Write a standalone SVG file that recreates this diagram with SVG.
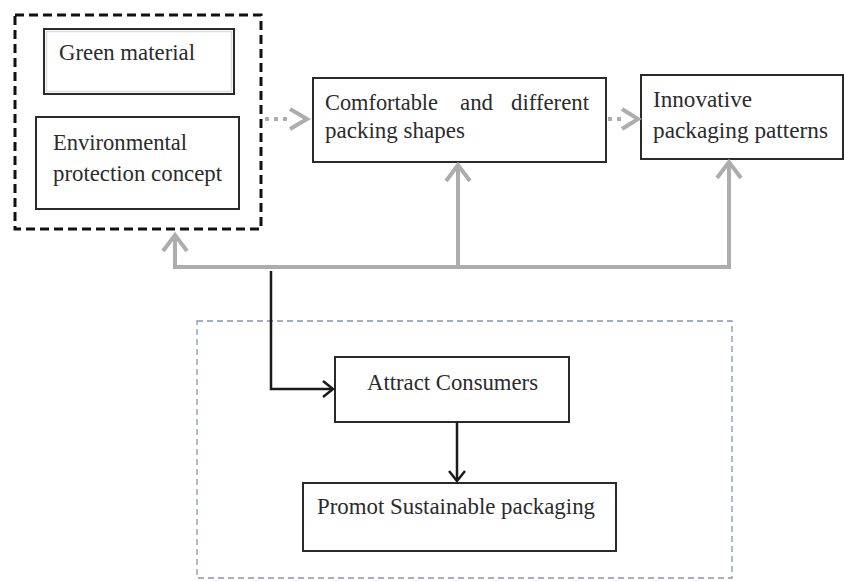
<svg xmlns="http://www.w3.org/2000/svg" width="844" height="581" viewBox="0 0 844 581">
<style>
  .box{fill:#fff;stroke:#2a2a2a;stroke-width:2}
  .t{font-family:"Liberation Serif","Times New Roman",serif;font-size:24px;fill:#2b2b2b}
  .gray{fill:none;stroke:#adadad;stroke-width:4;stroke-linejoin:miter}
  .dot{fill:none;stroke:#adadad;stroke-width:4;stroke-dasharray:4 5}
  .blk{fill:none;stroke:#1a1a1a;stroke-width:2.5}
</style>
<rect width="844" height="581" fill="#fff"/>
<g id="group-materials">
  <rect x="15" y="15" width="246" height="214" fill="none" stroke="#111" stroke-width="3" stroke-dasharray="9 5"/>
</g>
<g id="group-outcome">
  <rect x="197" y="321" width="535" height="257" fill="none" stroke="#7f97b8" stroke-width="1.3" stroke-dasharray="6 4"/>
</g>
<g id="green-material">
  <rect class="box" x="44" y="29" width="190" height="65" stroke="#555"/>
  <rect x="46.5" y="31.5" width="185" height="60" fill="none" stroke="#dcdcdc" stroke-width="1.5"/>
  <text class="t" x="59" y="60" textLength="136" lengthAdjust="spacingAndGlyphs">Green material</text>
</g>
<g id="environmental-protection">
  <rect class="box" x="36" y="117" width="203" height="92"/>
  <text class="t" x="53" y="150" textLength="134" lengthAdjust="spacingAndGlyphs">Environmental</text>
  <text class="t" x="53" y="181" textLength="169" lengthAdjust="spacingAndGlyphs">protection concept</text>
</g>
<g id="packing-shapes">
  <rect class="box" x="313" y="78" width="293" height="84"/>
  <text class="t" x="325" y="110" textLength="113" lengthAdjust="spacingAndGlyphs">Comfortable</text>
  <text class="t" x="460" y="110" textLength="33" lengthAdjust="spacingAndGlyphs">and</text>
  <text class="t" x="511" y="110" textLength="78" lengthAdjust="spacingAndGlyphs">different</text>
  <text class="t" x="325" y="138" textLength="140" lengthAdjust="spacingAndGlyphs">packing shapes</text>
</g>
<g id="packaging-patterns">
  <rect class="box" x="641" y="75" width="202" height="84"/>
  <text class="t" x="653" y="107" textLength="99" lengthAdjust="spacingAndGlyphs">Innovative</text>
  <text class="t" x="653" y="138" textLength="175" lengthAdjust="spacingAndGlyphs">packaging patterns</text>
</g>
<g id="attract-consumers">
  <rect class="box" x="335" y="357" width="234" height="65"/>
  <text class="t" x="367" y="390" textLength="171" lengthAdjust="spacingAndGlyphs">Attract Consumers</text>
</g>
<g id="promot-sustainable">
  <rect class="box" x="303" y="483" width="313" height="68"/>
  <text class="t" x="317" y="514" textLength="278" lengthAdjust="spacingAndGlyphs">Promot Sustainable packaging</text>
</g>
<g id="connectors">
  <line class="dot" x1="265" y1="119" x2="292" y2="119"/>
  <polyline class="gray" points="290,109 307,119 290,129"/>
  <line class="dot" x1="608" y1="119" x2="625" y2="119"/>
  <polyline class="gray" points="622,109 638,119 622,129"/>
  <polyline class="gray" points="175,236 175,267 729,267 729,163"/>
  <line class="gray" x1="458" y1="267" x2="458" y2="166"/>
  <polyline class="gray" points="163,251 175,235 187,251"/>
  <polyline class="gray" points="446,181 458,165 470,181"/>
  <polyline class="gray" points="717,178 729,162 741,178"/>
  <polyline class="blk" points="271,271 271,389 332,389"/>
  <polyline class="blk" points="323,381 333,389 323,397"/>
  <line class="blk" x1="457" y1="422" x2="457" y2="481"/>
  <polyline class="blk" points="449,471 457,481 465,471"/>
</g>
</svg>
